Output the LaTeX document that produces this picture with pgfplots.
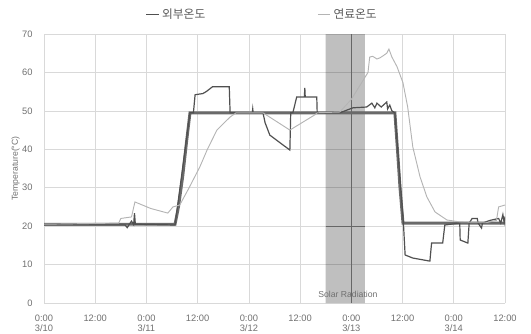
\documentclass[border=0pt]{standalone}
\usepackage{pgfplots}
\pgfplotsset{compat=1.18}
\usepackage{fontspec}
\setmainfont{Liberation Sans}
\newfontfamily\kr{Noto Sans CJK KR}
\definecolor{gridc}{HTML}{D9D9D9}
\definecolor{thickc}{HTML}{6A6A6A}
\definecolor{outc}{HTML}{505050}
\definecolor{fuelc}{HTML}{B4B4B4}
\definecolor{txtc}{HTML}{707070}
\begin{document}
\begin{tikzpicture}
\useasboundingbox (0,0) rectangle (398.25pt,249.75pt);
\begin{axis}[
  at={(33pt,22.5pt)}, anchor=south west,
  scale only axis, width=345.75pt, height=201.75pt,
  xmin=0, xmax=108, ymin=0, ymax=70,
  xtick={0,12,...,108}, ytick={0,10,...,70},
  xticklabels={{0:00\\3/10},12:00,{0:00\\3/11},12:00,{0:00\\3/12},12:00,{0:00\\3/13},12:00,{0:00\\3/14},12:00},
  xticklabel style={align=center, font=\fontsize{7}{7.5}\selectfont, text=txtc, yshift=-5.5pt},
  yticklabel style={font=\fontsize{7}{8}\selectfont, text=txtc, xshift=-5pt},
  /pgf/number format/assume math mode=true,
  grid=major, major grid style={gridc, line width=0.5pt},
  axis line style={draw=none}, tick style={draw=none},
  ylabel={Temperature(°C)},
  ylabel style={font=\fontsize{6.5}{7}\selectfont, text=txtc, yshift=-5pt},
  legend columns=2,
  legend style={at={(0.474,1)}, anchor=south, yshift=6pt, draw=none, fill=none,
    font=\kr\fontsize{8.8}{10}\selectfont, text=black!65,
    /tikz/every even column/.append style={column sep=82pt}},
  legend image code/.code={\draw[#1] (0pt,0pt) -- (9.5pt,0pt);},
]
% solar radiation shading
\addplot [draw=none, fill=black, fill opacity=0.25, forget plot] coordinates {(66,0) (75.2,0) (75.2,70) (66,70)} \closedcycle;
\addplot [color=gray!80!black, line width=0.6pt, forget plot] coordinates {(72,0) (72,70)};
\addplot [color=gray!80!black, line width=0.6pt, forget plot] coordinates {(66,20) (75.2,20)};
% thick set line
\addplot [thickc, line width=2.2pt, forget plot] coordinates {
(0,20.5) (30.7,20.5) (31.5,25) (32.5,33) (33.4,42) (34.2,49.5) (82.2,49.5) (82.8,40) (83.4,30) (84.1,20.8) (108,20.8)};
% outside temp
\addplot [outc, line width=0.9pt] coordinates {
(0,20.3) (19,20.3) (19.5,19.6) (20,20.5) (20.5,21.3) (21,20.4) (21.2,23.4) (21.4,20.5) (30.7,20.3)
(34.2,49.5) (35,49.5) (35.4,54.2) (37.2,54.5) (38,55) (39.5,56.3) (43.4,56.3) (43.6,49.5)
(48.8,49.5) (48.9,50.5) (49,49.5) (51.3,49.5) (51.8,46.9) (52.9,43.7) (55.3,41.7) (57.6,39.8)
(57.8,49.5) (58.3,49.5) (59.2,53.6) (61.0,53.6) (61.1,56) (61.2,53.6) (63.9,53.6) (64,49.5)
(69.3,49.5) (72.4,50.8) (75.6,51) (76.8,52) (77.5,50.8) (78,52) (79,51) (80.3,52.3) (80.5,50.5) (81,51.5) (81.5,50) (82.2,49.5)
(84.2,20.8) (84.6,12.5) (86.4,11.7) (90.4,10.9) (90.8,15.6) (93.4,15.6) (93.9,20.3)
(97.4,20.8) (97.5,16.4) (99.3,15.6) (99.6,20.8) (100.3,22) (101.5,22) (101.7,20.8) (102.5,19.5) (102.7,20.8)
(104.5,21.5) (106.5,22) (107,20.8) (107.5,23) (107.8,21) (108,22.5)};
\addlegendentry{외부온도}
% fuel temp
\addplot [fuelc, line width=0.7pt] coordinates {
(0,20.5) (17.5,20.8) (18,22) (20.5,22.4) (21.3,26.3) (25,24.6) (29,23.4) (30.2,25) (31.8,25.5)
(34,30) (36.5,35.4) (38.2,39.8) (40.5,45) (43.6,48.4) (45,49.5) (51.3,49.5) (57.6,45) (63.5,49) (64,49.5)
(69.3,49.7) (72,53) (75.9,60) (76.3,64) (77,64.2) (78,63.5) (78.7,63.8) (79.4,64.3) (80.3,65) (80.8,66.1)
(81.5,64) (82.7,61.5) (84.1,57.3) (85.2,51) (86.4,40.6) (88.1,32.8) (89.7,27.6) (91.6,23.7) (94.4,21.6) (97.4,21.1)
(104,21) (106,21.5) (106.5,25) (108,25.5)};
\addlegendentry{연료온도}
\node [font=\fontsize{6.5}{7}\selectfont, text=txtc] at (axis cs:71.2,2.2) {Solar Radiation};
\node [font=\fontsize{6}{7}\selectfont, text=txtc, anchor=north west, inner sep=1pt] at (rel axis cs:0.486,0) [yshift=-14pt] {Hour};
\end{axis}
\end{tikzpicture}
\end{document}
